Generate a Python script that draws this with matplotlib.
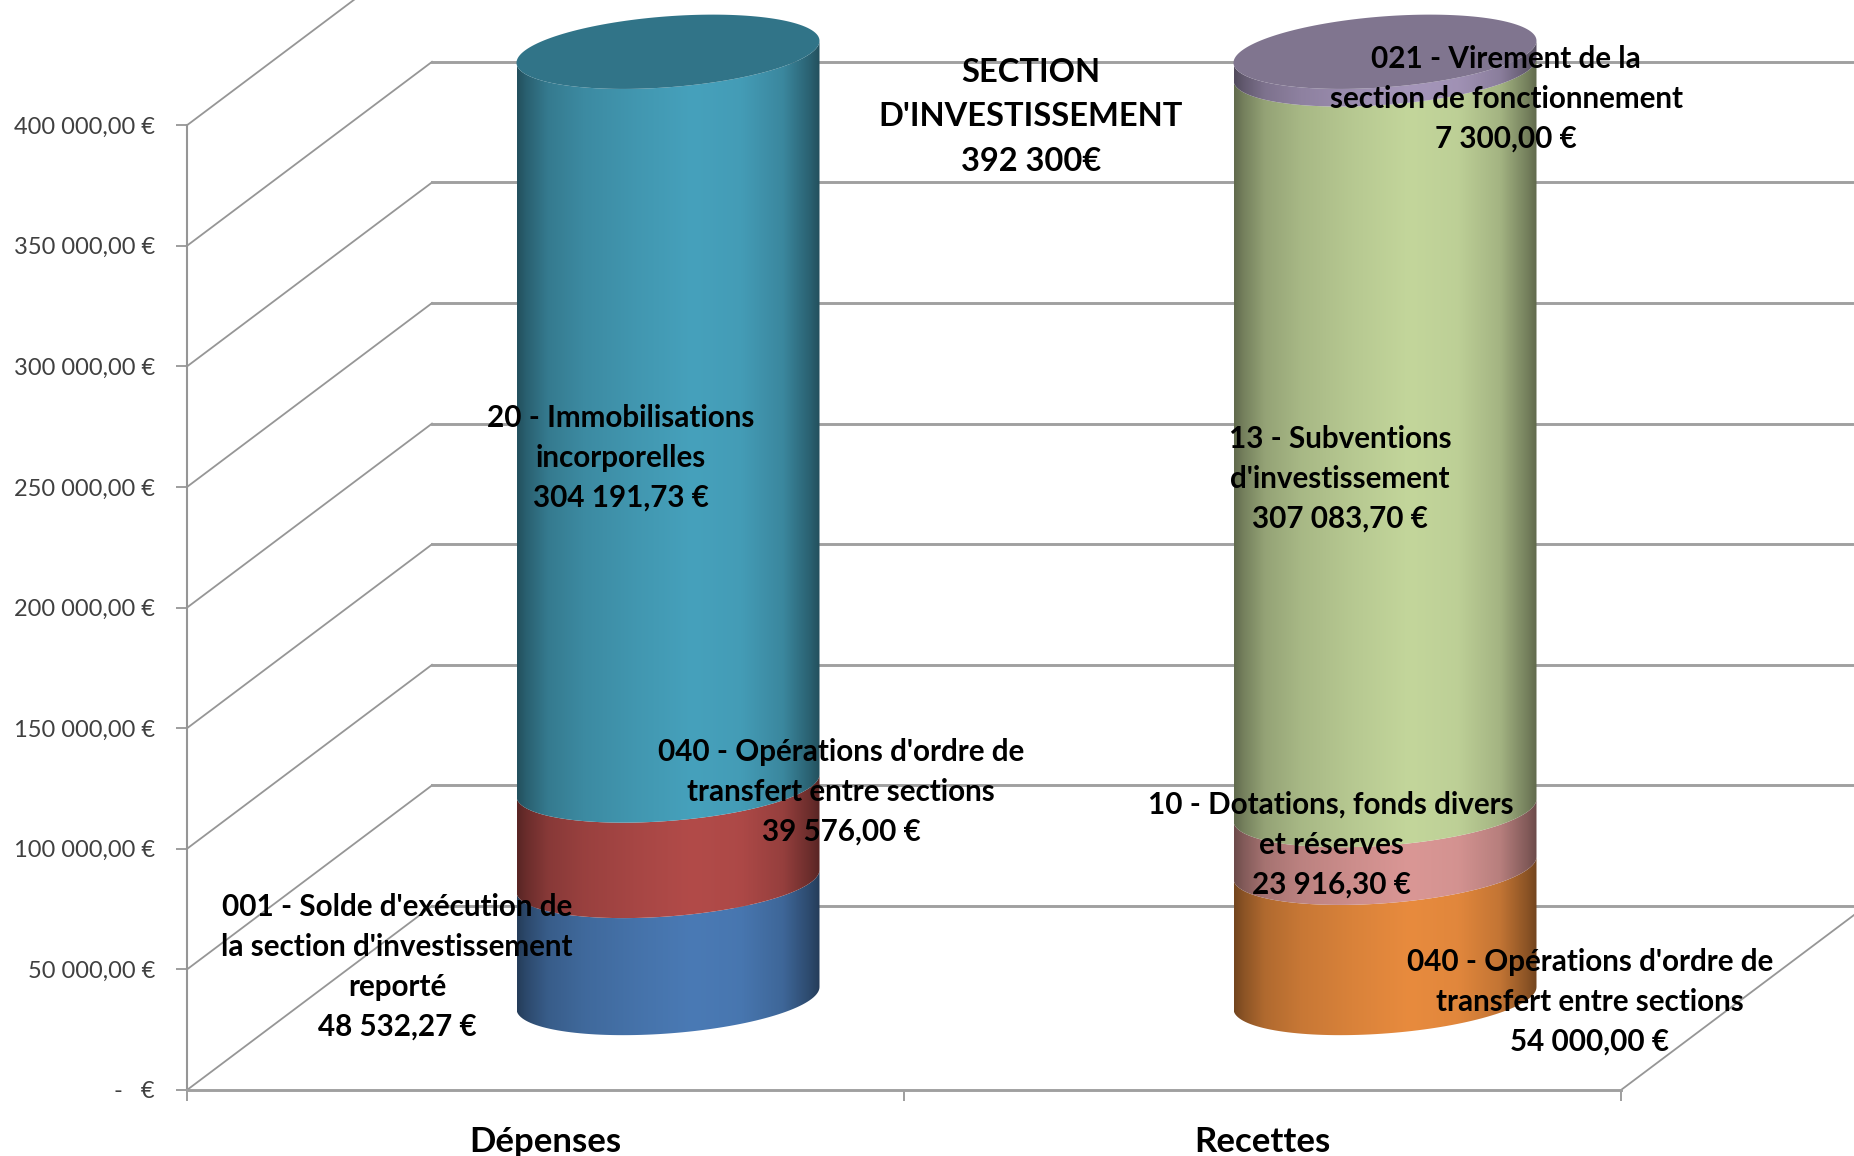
import numpy as np
import matplotlib
matplotlib.use("Agg")
import matplotlib.pyplot as plt
from matplotlib.patches import Polygon

plt.rcParams['font.family'] = ['Lato', 'Liberation Sans', 'DejaVu Sans']

categories = ["Dépenses", "Recettes"]
depenses = [48532.27, 39576.00, 304191.73]
recettes = [54000.00, 23916.30, 307083.70, 7300.00]
depenses_colors = ["#4a7ab5", "#b24b49", "#46a1bc"]
recettes_colors = ["#e88b3e", "#da9795", "#c3d69b", "#a596ba"]
top_colors = ["#317488", "#80758f"]

y_ticks = [0, 50000, 100000, 150000, 200000, 250000, 300000, 350000, 400000]
y_labels = ["-   €", "50 000,00 €", "100 000,00 €", "150 000,00 €", "200 000,00 €",
            "250 000,00 €", "300 000,00 €", "350 000,00 €", "400 000,00 €"]

W, H = 1854, 1156
# scale of the picture, px per category and euros per px
px_cat = 717.0
eur_px = 414.6
depth_x = 245 / px_cat
depth_y = 184 * eur_px

fig = plt.figure(figsize=(W / 100, H / 100), dpi=100)
ax = fig.add_axes([0, 0, 1, 1])
xlim = (-187 / px_cat, (W - 187) / px_cat)
ylim = (-(H - 1090) * eur_px, 1090 * eur_px)

grid_col = "#969696"
for v in y_ticks:
    ax.plot([0, depth_x], [v, v + depth_y], color=grid_col, lw=1.3, zorder=1)
    ax.plot([depth_x, xlim[1]], [v + depth_y, v + depth_y], color="#a0a0a0", lw=2.1, zorder=1)
ax.plot([2, 2 + depth_x], [0, depth_y], color=grid_col, lw=1.3, zorder=1)

for s in ["top", "right"]:
    ax.spines[s].set_visible(False)
ax.spines["left"].set_position(("data", 0))
ax.spines["bottom"].set_position(("data", 0))
ax.spines["left"].set_bounds(0, 400000)
ax.spines["bottom"].set_bounds(0, 2)
ax.spines["left"].set_color(grid_col)
ax.spines["bottom"].set_color("#a0a0a0")
ax.spines["left"].set_linewidth(1.5)
ax.spines["bottom"].set_linewidth(2.1)
ax.set_yticks(y_ticks)
ax.set_yticklabels(y_labels, fontsize=17, color="#404040")
ax.set_xticks([0, 1, 2])
ax.set_xticklabels(["", "", ""])
ax.set_xticks([0.5, 1.5], minor=True)
ax.set_xticklabels(categories, minor=True, fontsize=25, fontweight="bold", color="black")
ax.tick_params(axis="y", length=8, width=1.3, color=grid_col, pad=15)
ax.tick_params(axis="x", which="major", length=8, width=1.3, color=grid_col)
ax.tick_params(axis="x", which="minor", length=0, pad=26)

# cylinder shape
radius = 151.5 / px_cat
tilt = 11 * eur_px
flat = 35.5 * eur_px
t_front = np.linspace(np.pi, 2 * np.pi, 80)
t_full = np.linspace(0, 2 * np.pi, 160)

grad_pos = [0, 0.03, 0.10, 0.22, 0.40, 0.58, 0.74, 0.88, 0.97, 1]
grad_val = [0.50, 0.60, 0.76, 0.86, 0.94, 1.0, 0.97, 0.84, 0.60, 0.50]


def shade(color):
    rgb = np.array(matplotlib.colors.to_rgb(color))
    xs = np.linspace(0, 1, 200)
    return (np.interp(xs, grad_pos, grad_val)[:, None] * rgb)[None, :, :]


def arc(cx, v, t):
    return cx + radius * np.cos(t), v + tilt * np.cos(t) + flat * np.sin(t)


def cylinder(x_pos, values, colors, top_color):
    cx = x_pos + depth_x * 0.5
    base = depth_y * 0.5
    tops = np.cumsum(values)
    bottoms = tops - np.array(values)
    for i in range(len(values)):
        x1, y1 = arc(cx, base + bottoms[i], t_front)
        x2, y2 = arc(cx, base + tops[i], t_front[::-1])
        poly = Polygon(np.column_stack([np.r_[x1, x2], np.r_[y1, y2]]), closed=True,
                       transform=ax.transData, fc="none", ec="none")
        ax.add_patch(poly)
        im = ax.imshow(shade(colors[i]), extent=[cx - radius, cx + radius, ylim[0], ylim[1]],
                       aspect="auto", interpolation="bilinear", zorder=3 + i * 0.1)
        im.set_clip_path(poly)
    xt, yt = arc(cx, base + tops[-1], t_full)
    ax.fill(xt, yt, color=top_color, lw=0, zorder=4)


cylinder(0.5, depenses, depenses_colors, top_colors[0])
cylinder(1.5, recettes, recettes_colors, top_colors[1])

ax.set_xlim(*xlim)
ax.set_ylim(*ylim)
ax.patch.set_alpha(0)

label_texts = [
    "SECTION\nD'INVESTISSEMENT\n392 300€",
    "20 - Immobilisations\nincorporelles\n304 191,73 €",
    "021 - Virement de la\nsection de fonctionnement\n7 300,00 €",
    "13 - Subventions\nd'investissement\n307 083,70 €",
    "040 - Opérations d'ordre de\ntransfert entre sections\n39 576,00 €",
    "10 - Dotations, fonds divers\net réserves\n23 916,30 €",
    "001 - Solde d'exécution de\nla section d'investissement\nreporté\n48 532,27 €",
    "040 - Opérations d'ordre de\ntransfert entre sections\n54 000,00 €",
]
label_x = [1031, 621, 1506, 1340, 841, 1331, 397, 1590]
label_y = [117, 458, 99, 479, 792, 845, 967, 1002]
label_size = [23.5, 21.3, 21.3, 21.3, 21.3, 21.3, 21.3, 21.3]
label_space = [1.64, 1.52, 1.52, 1.52, 1.52, 1.52, 1.52, 1.52]

for txt, x, y, fs, sp in zip(label_texts, label_x, label_y, label_size, label_space):
    fig.text(x / W, 1 - y / H, txt, ha="center", va="center", fontsize=fs, fontweight="bold",
             color="black", linespacing=sp, zorder=10)

fig.savefig("out.png", dpi=100, facecolor="white")
